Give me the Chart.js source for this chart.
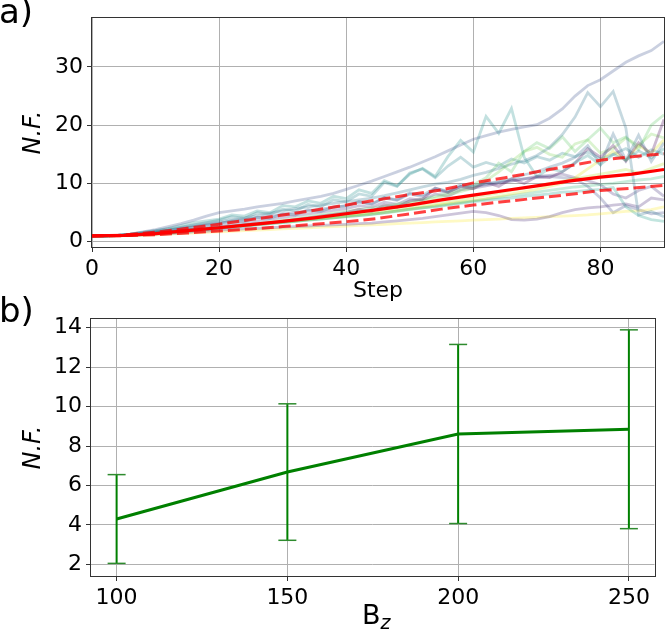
<!DOCTYPE html>
<html>
<head>
<meta charset="utf-8">
<script src="https://cdn.jsdelivr.net/npm/chart.js@4.4.1/dist/chart.umd.min.js"></script>
<style>
html,body{margin:0;padding:0;background:#fff;width:665px;height:629px;overflow:hidden;}
canvas{position:absolute;left:0;}
#cA{top:0;}
#cB{top:300px;}
.lbl{position:absolute;font-family:'DejaVu Sans';color:#000;white-space:nowrap;}
#la{left:-1px;top:-6px;font-size:34px;line-height:34px;}
#lb{left:-1px;top:293px;font-size:34px;line-height:34px;}
#bz{left:362px;top:601px;font-size:27px;line-height:27px;}
#bz sub{font-size:19px;font-style:italic;vertical-align:-5px;}
</style>
</head>
<body>
<canvas id="cA" width="665" height="310"></canvas>
<canvas id="cB" width="665" height="329"></canvas>
<div class="lbl" id="la">a)</div>
<div class="lbl" id="lb">b)</div>
<div class="lbl" id="bz">B<sub>z</sub></div>
<script>
// ---------- panel a) data ----------
const steps = [0,2,4,6,8,10,12,14,16,18,20,22,24,26,28,30,32,34,36,38,40,42,44,46,48,50,52,54,56,58,60,62,64,66,68,70,72,74,76,78,80,82,84,86,88,90];
const runA = [1.0,1.0,1.1,1.3,1.7,2.1,2.6,3.1,3.7,4.4, 5.0,5.3,5.6,6.0,6.3,6.6,7.0,7.4,7.8,8.3, 9.0,9.7,10.4,11.2,12.0,12.8,13.7,14.6,15.6,16.6, 17.6,18.2,18.8,19.3,19.7,20.1,21.2,22.8,25.0,26.8, 27.8,29.3,30.8,31.9,32.8,34.4];
const runB = [1.0,1.0,1.1,1.3,1.6,1.9,2.3,2.8,3.3,3.6, 3.9,4.6,4.4,5.3,5.0,6.2,6.0,7.0,6.6,7.8, 7.4,8.9,8.3,10.5,9.6,11.6,12.6,11.2,14.6,17.4, 15.4,21.5,18.6,22.9,14.5,11.2,12.6,12.0,13.6,14.8, 13.2,15.0,14.0,15.6,14.4,16.0];
const runC = [1.0,1.0,1.1,1.2,1.4,1.7,2.0,2.4,2.8,3.1, 3.4,3.8,4.1,4.5,4.9,5.3,5.7,6.0,6.3,6.6, 6.9,7.2,7.5,7.9,8.4,8.9,9.4,9.9,10.2,10.7, 11.4,11.9,12.6,13.3,13.9,14.8,16.2,18.4,21.4,25.6, 23.2,25.8,19.5,4.6,5.2,4.3];
const runD = [1.0,1.0,1.05,1.2,1.4,1.6,1.9,2.2,2.5,2.8, 3.1,3.6,3.5,4.2,4.0,4.8,4.6,5.5,5.2,6.0, 6.1,6.9,6.5,7.6,7.2,8.4,8.0,9.2,8.7,9.8, 9.6,10.0,10.3,10.8,11.5,12.0,12.8,13.5,14.5,16.5, 13.2,18.5,14.0,18.3,13.8,17.0];
const runE = [1.0,1.0,1.05,1.15,1.3,1.5,1.7,1.9,2.1,2.3, 2.5,2.7,2.9,3.1,3.3,3.5,3.8,4.1,4.4,4.7, 5.0,5.6,5.2,6.3,5.9,7.0,7.3,9.2,8.5,9.5, 9.1,10.2,9.5,10.8,10.0,11.2,11.0,12.0,13.5,16.0, 14.5,16.5,13.8,17.0,15.0,21.0];
const runF = [1.0,1.0,1.0,1.1,1.2,1.3,1.4,1.5,1.7,1.8, 2.0,2.1,2.2,2.3,2.4,2.5,2.6,2.7,2.8,2.9, 3.0,3.1,3.2,3.4,3.6,3.8,4.0,4.3,4.6,4.9, 5.2,5.0,4.5,3.8,3.7,3.9,4.3,5.0,5.5,5.8, 6.0,6.3,6.5,6.0,7.5,7.2];
const runG = [1.0,1.0,1.05,1.1,1.2,1.35,1.5,1.7,1.9,2.1, 2.3,2.5,2.7,2.9,3.1,3.3,3.5,3.7,3.9,4.1, 4.3,4.5,4.7,5.0,5.3,5.6,5.8,6.0,6.3,6.6, 6.9,7.1,7.3,7.5,7.8,8.0,8.2,8.5,8.6,8.8, 9.0,9.3,6.0,4.5,3.8,3.5];
const runH = [1.0,1.0,1.05,1.2,1.35,1.5,1.7,1.9,2.1,2.3, 2.5,2.7,2.9,3.1,3.4,3.7,4.0,4.3,4.6,4.9, 5.2,5.5,5.8,6.1,6.5,6.9,7.3,7.8,8.4,9.0, 9.8,11.0,13.5,12.0,15.5,17.0,16.0,18.0,15.5,17.5, 19.5,17.0,18.0,15.8,20.0,21.8];
const runI = [1.0,1.0,1.05,1.15,1.3,1.45,1.6,1.8,2.0,2.2, 2.4,2.6,2.8,3.0,3.2,3.4,3.6,3.9,4.2,4.5, 4.8,5.1,5.4,5.8,6.2,6.6,7.0,7.5,8.0,8.6, 9.2,10.5,12.0,13.8,15.5,16.2,15.0,14.5,16.8,17.5, 15.2,16.0,17.8,16.5,18.5,17.8];
const runJ = [1.0,1.0,1.0,1.05,1.1,1.2,1.3,1.4,1.5,1.6, 1.7,1.8,1.9,2.0,2.1,2.2,2.3,2.4,2.5,2.6, 2.7,2.8,2.9,3.0,3.1,3.2,3.3,3.4,3.5,3.6, 3.7,3.8,3.9,4.0,4.1,4.2,4.3,4.4,4.5,4.6, 4.8,5.0,5.2,5.3,5.5,6.0];
const runK = [1.0,1.0,1.05,1.15,1.3,1.45,1.6,1.8,2.0,2.2, 2.4,2.6,2.8,3.0,3.2,3.4,3.6,3.8,4.0,4.2, 4.4,4.6,4.8,5.0,5.3,5.6,5.9,6.2,6.5,6.8, 7.1,7.4,7.8,8.2,8.6,9.0,9.5,10.0,11.0,12.5, 14.0,15.5,14.0,16.5,15.2,17.5];
const runL = [1.0,1.0,1.05,1.15,1.3,1.45,1.6,1.8,2.0,2.2, 2.4,2.6,2.8,3.0,3.2,3.4,3.6,3.8,4.0,4.2, 4.4,4.7,5.0,5.3,5.6,5.9,6.2,6.5,6.8,7.2, 7.6,8.0,8.4,8.8,9.2,9.6,10.0,10.4,10.8,11.2, 11.6,12.0,12.4,11.8,12.6,13.4];
const runM = [1.0,1.0,1.1,1.25,1.45,1.7,2.0,2.3,2.6,2.9, 3.2,3.5,3.8,4.1,4.4,4.7,5.0,5.3,5.6,5.9, 6.2,6.8,6.4,7.5,7.1,8.2,7.7,8.9,8.4,9.5, 9.5,9.8,10.2,10.5,10.8,11.0,11.2,11.0,10.8,9.5, 7.5,5.0,6.2,5.5,4.8,5.0];
const runN = [1.0,1.0,1.1,1.3,1.6,1.9,2.2,2.5,2.9,3.3, 3.7,4.3,4.0,5.0,4.7,5.6,5.3,6.4,6.0,7.2, 6.9,8.2,7.8,10.2,9.5,11.8,12.5,11.0,13.0,14.5, 12.8,13.6,13.0,14.2,13.5,14.6,14.0,15.2,14.6,15.4, 14.2,15.0,16.0,14.5,15.8,15.0];
const runO = [1.0,1.0,1.05,1.1,1.25,1.4,1.55,1.7,1.9,2.1, 2.3,2.5,2.7,2.9,3.1,3.3,3.5,3.7,3.9,4.1, 4.3,4.5,4.7,4.9,5.2,5.5,5.8,6.1,6.4,6.7, 7.0,7.3,7.6,7.9,8.2,8.5,8.8,9.1,9.4,9.6, 9.8,10.0,10.3,10.6,10.8,11.2];
const runP = [1.0,1.0,1.05,1.15,1.3,1.5,1.7,1.9,2.1,2.4, 2.7,3.0,3.3,3.6,3.9,4.2,4.5,4.8,5.1,5.4, 5.7,6.2,5.9,6.8,6.4,7.4,7.1,8.2,7.8,8.9, 9.2,9.6,10.0,10.4,10.8,11.2,11.4,11.6,11.0,10.5, 9.8,8.2,7.5,8.8,9.5,7.8];
const runs = [runA,runB,runC,runD,runE,runF,runG,runH,runI,runJ,runK,runL,runM,runN,runO,runP];
const runColors = ['#3b528b','#21918c','#2c728e','#31688e','#440154','#482878','#1f9e89','#5ec962','#7ad151','#fde725','#dde318','#b5de2b','#3e4a89','#26828e','#35b779','#46327e'];

const meanSteps = [0,5,10,15,20,25,30,35,40,45,50,55,60,65,70,75,80,85,90];
const meanNF  = [1.0,1.1,1.4,1.9,2.4,2.95,3.5,4.1,4.8,5.5,6.3,7.2,8.0,8.8,9.6,10.4,11.1,11.6,12.4];
const upperNF = [1.0,1.15,1.65,2.3,3.0,3.8,4.6,5.4,6.3,7.2,8.1,8.9,10.1,11.0,12.0,13.0,14.0,14.6,15.1];
const lowerNF = [1.0,1.05,1.2,1.5,1.85,2.2,2.6,3.0,3.45,4.0,4.8,5.6,6.3,6.9,7.5,8.1,8.8,9.2,9.7];

const xTicksA = [0,20,40,60,80];
const yTicksA = [0,10,20,30];

// ---------- panel b) data ----------
const bz = [100,150,200,250];
const nfMean = [4.30,6.68,8.61,8.85];
const nfErr  = [2.25,3.46,4.54,5.04];
const xTicksB = [100,150,200,250];
const yTicksB = [2,4,6,8,10,12,14];

// ---------- helpers ----------
Chart.defaults.font.family = "'DejaVu Sans'";
Chart.defaults.color = '#000';

function hexA(hex, a){
  const n = parseInt(hex.slice(1),16);
  return 'rgba(' + ((n>>16)&255) + ',' + ((n>>8)&255) + ',' + (n&255) + ',' + a + ')';
}
function pts(xs, ys){ return xs.map((x,i)=>({x:x, y:ys[i]})); }

const framePlugin = {
  id:'frame',
  afterDraw(chart){
    const a = chart.chartArea, ctx = chart.ctx;
    ctx.save();
    ctx.strokeStyle = '#333';
    ctx.lineWidth = 1;
    ctx.strokeRect(Math.round(a.left)-0.5, Math.round(a.top)-0.5, Math.round(a.right)-Math.round(a.left)+1, Math.round(a.bottom)-Math.round(a.top)+1);
    ctx.restore();
  }
};

function axis(opts){
  return Object.assign({
    type:'linear',
    border:{display:false},
    grid:{color:'#b0b0b0', lineWidth:1, drawTicks:true, tickLength:5, tickColor:'#333', tickWidth:1},
    ticks:{font:{size:22}, color:'#000', autoSkip:false, maxRotation:0, padding:4}
  }, opts);
}

// ---------- chart a ----------
const dsA = [];
dsA.push({data:pts(meanSteps, meanNF), borderColor:'#ff0000', borderWidth:3.2, pointRadius:0, tension:0, clip:0});
dsA.push({data:pts(meanSteps, upperNF), borderColor:'rgba(255,0,0,0.75)', borderWidth:3, borderDash:[12,5], pointRadius:0, tension:0, clip:0});
dsA.push({data:pts(meanSteps, lowerNF), borderColor:'rgba(255,0,0,0.75)', borderWidth:3, borderDash:[12,5], pointRadius:0, tension:0, clip:0});
runs.forEach((r,i)=>{
  dsA.push({data:pts(steps, r), borderColor:hexA(runColors[i],0.27), borderWidth:2.8, pointRadius:0, tension:0, clip:0});
});

new Chart(document.getElementById('cA'), {
  type:'line',
  data:{datasets:dsA},
  options:{
    responsive:false, animation:false, devicePixelRatio:1,
    layout:{padding:{top:18,right:1,left:0,bottom:0}},
    plugins:{legend:{display:false}, tooltip:{enabled:false}},
    scales:{
      x: axis({min:0, max:90,
        afterBuildTicks:s=>{s.ticks = xTicksA.map(v=>({value:v}));},
        afterFit:s=>{s.height = 63;},
        title:{display:true, text:'Step', font:{size:22}, color:'#000', padding:{top:0,bottom:6}}
      }),
      y: axis({min:-0.9, max:38.4,
        afterBuildTicks:s=>{s.ticks = yTicksA.map(v=>({value:v}));},
        afterFit:s=>{s.width = 92;},
        title:{display:true, text:'N.F.', font:{size:24, style:'italic'}, color:'#000', padding:{top:19,bottom:0}}
      })
    }
  },
  plugins:[framePlugin]
});

// ---------- chart b ----------
const dsB = [];
dsB.push({data:pts(bz, nfMean), borderColor:'#008000', borderWidth:3, pointRadius:0, tension:0, clip:0});
bz.forEach((x,i)=>{
  dsB.push({data:[{x:x, y:nfMean[i]-nfErr[i]}, {x:x, y:nfMean[i]+nfErr[i]}],
    borderColor:'#008000', borderWidth:2, pointStyle:'line', pointRadius:9,
    pointBorderWidth:1.5, pointBorderColor:'#2e8b2e', pointBackgroundColor:'#008000', tension:0, clip:false});
});

new Chart(document.getElementById('cB'), {
  type:'line',
  data:{datasets:dsB},
  options:{
    responsive:false, animation:false, devicePixelRatio:1,
    layout:{padding:{top:19,right:1,left:0,bottom:0}},
    plugins:{legend:{display:false}, tooltip:{enabled:false}},
    scales:{
      x: axis({min:92.5, max:257.5,
        afterBuildTicks:s=>{s.ticks = xTicksB.map(v=>({value:v}));},
        afterFit:s=>{s.height = 53;}
      }),
      y: axis({min:1.41, max:14.44,
        afterBuildTicks:s=>{s.ticks = yTicksB.map(v=>({value:v}));},
        afterFit:s=>{s.width = 91;},
        title:{display:true, text:'N.F.', font:{size:24, style:'italic'}, color:'#000', padding:{top:19,bottom:0}}
      })
    }
  },
  plugins:[framePlugin]
});
</script>
</body>
</html>
